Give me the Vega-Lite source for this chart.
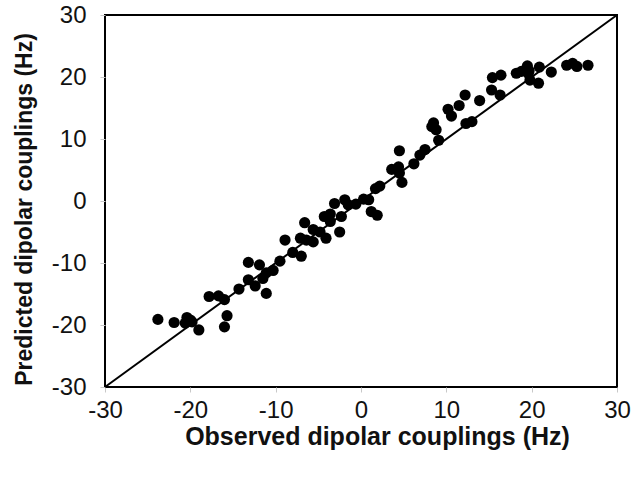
{
  "$schema": "https://vega.github.io/schema/vega-lite/v6.json",
  "autosize": {"type": "none"},
  "padding": {"left": 105, "top": 15, "right": 21, "bottom": 96},
  "width": 512,
  "height": 372,
  "background": "white",
  "config": {
    "view": {"stroke": "black", "strokeWidth": 2},
    "font": "Liberation Sans",
    "axis": {
      "grid": false,
      "domain": false,
      "ticks": true,
      "tickColor": "#c8c8c8",
      "tickSize": 5,
      "labelFlush": false,
      "labelOverlap": false,
      "labelFont": "Liberation Sans",
      "labelFontSize": 24,
      "labelColor": "#111111",
      "labelExpr": "'' + datum.value",
      "titleFont": "Liberation Sans",
      "titleFontWeight": "bold",
      "titleColor": "#111111"
    }
  },
  "datasets": {
    "diag": [{"x": -30, "y": -30, "x2": 30, "y2": 30}],
    "pts": [
      {"obs": -23.8, "pred": -19.1}, {"obs": -21.9, "pred": -19.6}, {"obs": -20.4, "pred": -18.8},
      {"obs": -20.0, "pred": -19.2}, {"obs": -20.6, "pred": -19.7}, {"obs": -19.8, "pred": -19.5},
      {"obs": -19.0, "pred": -20.8}, {"obs": -17.8, "pred": -15.4}, {"obs": -16.7, "pred": -15.3},
      {"obs": -16.0, "pred": -15.9}, {"obs": -15.7, "pred": -18.5}, {"obs": -16.0, "pred": -20.3},
      {"obs": -14.3, "pred": -14.2}, {"obs": -13.2, "pred": -12.7}, {"obs": -12.4, "pred": -13.7},
      {"obs": -11.5, "pred": -12.5}, {"obs": -11.1, "pred": -14.9}, {"obs": -11.1, "pred": -11.6},
      {"obs": -10.3, "pred": -11.2}, {"obs": -13.2, "pred": -9.9}, {"obs": -11.9, "pred": -10.3},
      {"obs": -9.5, "pred": -9.7}, {"obs": -8.9, "pred": -6.3}, {"obs": -8.0, "pred": -8.3},
      {"obs": -7.0, "pred": -8.9}, {"obs": -7.1, "pred": -6.0}, {"obs": -6.4, "pred": -6.3},
      {"obs": -5.6, "pred": -6.6}, {"obs": -6.6, "pred": -3.5}, {"obs": -5.6, "pred": -4.6},
      {"obs": -4.8, "pred": -5.0}, {"obs": -4.3, "pred": -2.5}, {"obs": -3.6, "pred": -2.1},
      {"obs": -3.6, "pred": -3.3}, {"obs": -4.1, "pred": -6.0}, {"obs": -2.5, "pred": -5.0},
      {"obs": -2.3, "pred": -2.5}, {"obs": -3.1, "pred": -0.4}, {"obs": -1.9, "pred": 0.2},
      {"obs": -1.5, "pred": -0.6}, {"obs": -0.6, "pred": -0.5}, {"obs": 0.3, "pred": 0.3},
      {"obs": 0.9, "pred": 0.2}, {"obs": 1.2, "pred": -1.7}, {"obs": 1.9, "pred": -2.3},
      {"obs": 1.7, "pred": 2.0}, {"obs": 2.2, "pred": 2.4}, {"obs": 3.6, "pred": 5.1},
      {"obs": 4.4, "pred": 5.5}, {"obs": 4.5, "pred": 4.5}, {"obs": 4.8, "pred": 3.0},
      {"obs": 4.5, "pred": 8.1}, {"obs": 6.2, "pred": 6.0}, {"obs": 6.9, "pred": 7.4},
      {"obs": 7.5, "pred": 8.3}, {"obs": 8.3, "pred": 12.0}, {"obs": 8.5, "pred": 12.6},
      {"obs": 8.8, "pred": 11.5}, {"obs": 9.1, "pred": 9.8}, {"obs": 10.2, "pred": 14.8},
      {"obs": 10.6, "pred": 13.7}, {"obs": 11.5, "pred": 15.4}, {"obs": 12.3, "pred": 12.5},
      {"obs": 13.0, "pred": 12.8}, {"obs": 12.2, "pred": 17.1}, {"obs": 13.9, "pred": 16.2},
      {"obs": 15.3, "pred": 17.9}, {"obs": 16.3, "pred": 17.1}, {"obs": 15.4, "pred": 19.9},
      {"obs": 16.4, "pred": 20.3}, {"obs": 18.2, "pred": 20.6}, {"obs": 18.8, "pred": 20.9},
      {"obs": 19.5, "pred": 21.8}, {"obs": 19.6, "pred": 20.6}, {"obs": 19.8, "pred": 19.5},
      {"obs": 20.8, "pred": 19.0}, {"obs": 20.9, "pred": 21.6}, {"obs": 19.7, "pred": 21.0},
      {"obs": 22.3, "pred": 20.8}, {"obs": 24.1, "pred": 21.9}, {"obs": 24.8, "pred": 22.2},
      {"obs": 25.3, "pred": 21.7}, {"obs": 26.6, "pred": 21.9}
    ]
  },
  "layer": [
    {
      "data": {"name": "diag"},
      "mark": {"type": "rule", "color": "black", "strokeWidth": 2},
      "encoding": {
        "x": {"field": "x", "type": "quantitative"},
        "y": {"field": "y", "type": "quantitative"},
        "x2": {"field": "x2"},
        "y2": {"field": "y2"}
      }
    },
    {
      "data": {"name": "pts"},
      "mark": {"type": "circle", "color": "black", "opacity": 1, "size": 125},
      "encoding": {
        "x": {
          "field": "obs", "type": "quantitative",
          "scale": {"domain": [-30, 30], "nice": false},
          "axis": {"values": [-30, -20, -10, 0, 10, 20, 30], "title": "Observed dipolar couplings (Hz)", "titleFontSize": 25, "titleX": 272, "labelPadding": 6, "titlePadding": 2}
        },
        "y": {
          "field": "pred", "type": "quantitative",
          "scale": {"domain": [-30, 30], "nice": false},
          "axis": {"values": [-30, -20, -10, 0, 10, 20, 30], "title": "Predicted dipolar couplings (Hz)", "titleFontSize": 23, "titleY": 194, "labelPadding": 14, "titlePadding": 15}
        }
      }
    }
  ]
}
